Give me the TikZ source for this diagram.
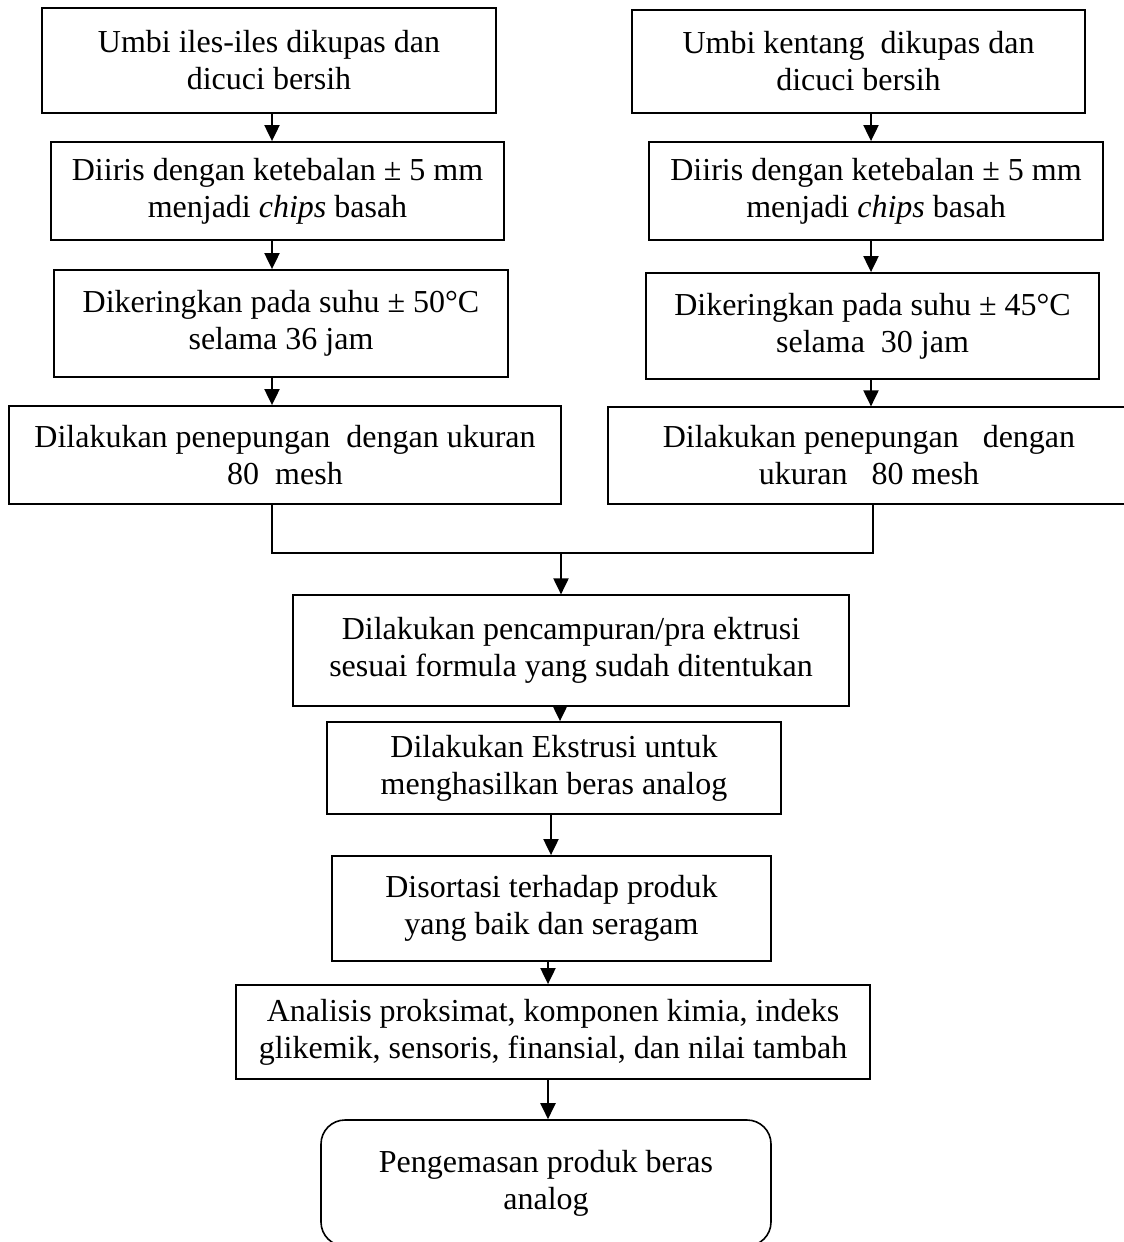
\documentclass[tikz,border=0pt]{standalone}
\usepackage{fontspec}
\setmainfont{Liberation Serif}
\usetikzlibrary{arrows.meta,positioning,calc}
\tikzset{
  stepbox/.style={rectangle, draw=black, line width=0.9pt, align=center, inner sep=0pt,
    font=\fontsize{16}{18.5}\selectfont},
  thinbox/.style={stepbox, line width=0.6pt},
  endbox/.style={stepbox, rounded corners=12pt, line width=0.8pt},
  sz/.style 2 args={minimum width=#1*0.5pt, minimum height=#2*0.5pt},
  link/.style={-{Triangle[length=8pt,width=7.5pt]}, line width=1pt},
  mergeline/.style={line width=1pt},
}

\begin{document}
\begin{tikzpicture}[x=0.5pt, y=-0.5pt]
  \useasboundingbox (0,0) rectangle (1124,1242);
  % iles-iles column
  \node[stepbox, sz={454}{105}] (L1) at (269,60.5) {Umbi iles-iles dikupas dan\\dicuci bersih};
  \node[stepbox, sz={453}{98}] (L2) at (277.5,191) {Diiris dengan ketebalan ± 5 mm\\menjadi \textit{chips} basah};
  \node[stepbox, sz={454}{107}] (L3) at (281,323.5) {Dikeringkan pada suhu ± 50\textdegree C\\selama 36 jam};
  \node[stepbox, sz={552}{98}] (L4) at (285,455) {Dilakukan penepungan\ \ dengan ukuran\\80\ \ mesh};
  % kentang column
  \node[stepbox, sz={453}{103}] (R1) at (858.5,61.5) {Umbi kentang\ \ dikupas dan\\dicuci bersih};
  \node[stepbox, sz={454}{98}] (R2) at (876,191) {Diiris dengan ketebalan ± 5 mm\\menjadi \textit{chips} basah};
  \node[stepbox, sz={453}{106}] (R3) at (872.5,326) {Dikeringkan pada suhu ± 45\textdegree C\\selama\ \ 30 jam};
  \node[thinbox, sz={522}{97}] (R4) at (869,455.5) {Dilakukan penepungan\ \ \ dengan\\ukuran\ \ \ 80 mesh};
  % merged steps
  \node[thinbox, sz={556}{111}] (M1) at (571,650.5) {Dilakukan pencampuran/pra ektrusi\\sesuai formula yang sudah ditentukan};
  \node[stepbox, sz={454}{92}] (M2) at (554,768) {Dilakukan Ekstrusi untuk\\menghasilkan beras analog};
  \node[stepbox, sz={439}{105}] (M3) at (551.5,908.5) {Disortasi terhadap produk\\yang baik dan seragam};
  \node[stepbox, sz={634}{94}] (M4) at (553,1032) {Analisis proksimat, komponen kimia, indeks\\glikemik, sensoris, finansial, dan nilai tambah};
  \node[endbox, sz={450}{126}] (M5) at (546,1183) {Pengemasan produk beras\\analog};

  \coordinate (lx) at (272,0);
  \coordinate (rx) at (871,0);
  \foreach \a/\b in {L1/L2,L2/L3,L3/L4} \draw[link] (\a.south -| lx) -- (\b.north -| lx);
  \foreach \a/\b in {R1/R2,R2/R3,R3/R4} \draw[link] (\a.south -| rx) -- (\b.north -| rx);

  \coordinate (jl) at (272,553);
  \coordinate (jr) at (873,553);
  \coordinate (mj) at (561,553);
  \draw[mergeline] (L4.south -| jl) -- (jl) -- (jr) -- (R4.south -| jr);
  \draw[link] (mj) -- (M1.north -| mj);

  \coordinate (m1) at (560,0);
  \coordinate (m2) at (551,0);
  \coordinate (m3) at (548,0);
  \draw[link] (M1.south -| m1) -- (M2.north -| m1);
  \draw[link] (M2.south -| m2) -- (M3.north -| m2);
  \draw[link] (M3.south -| m3) -- (M4.north -| m3);
  \draw[link] (M4.south -| m3) -- (M5.north -| m3);
\end{tikzpicture}
\end{document}
